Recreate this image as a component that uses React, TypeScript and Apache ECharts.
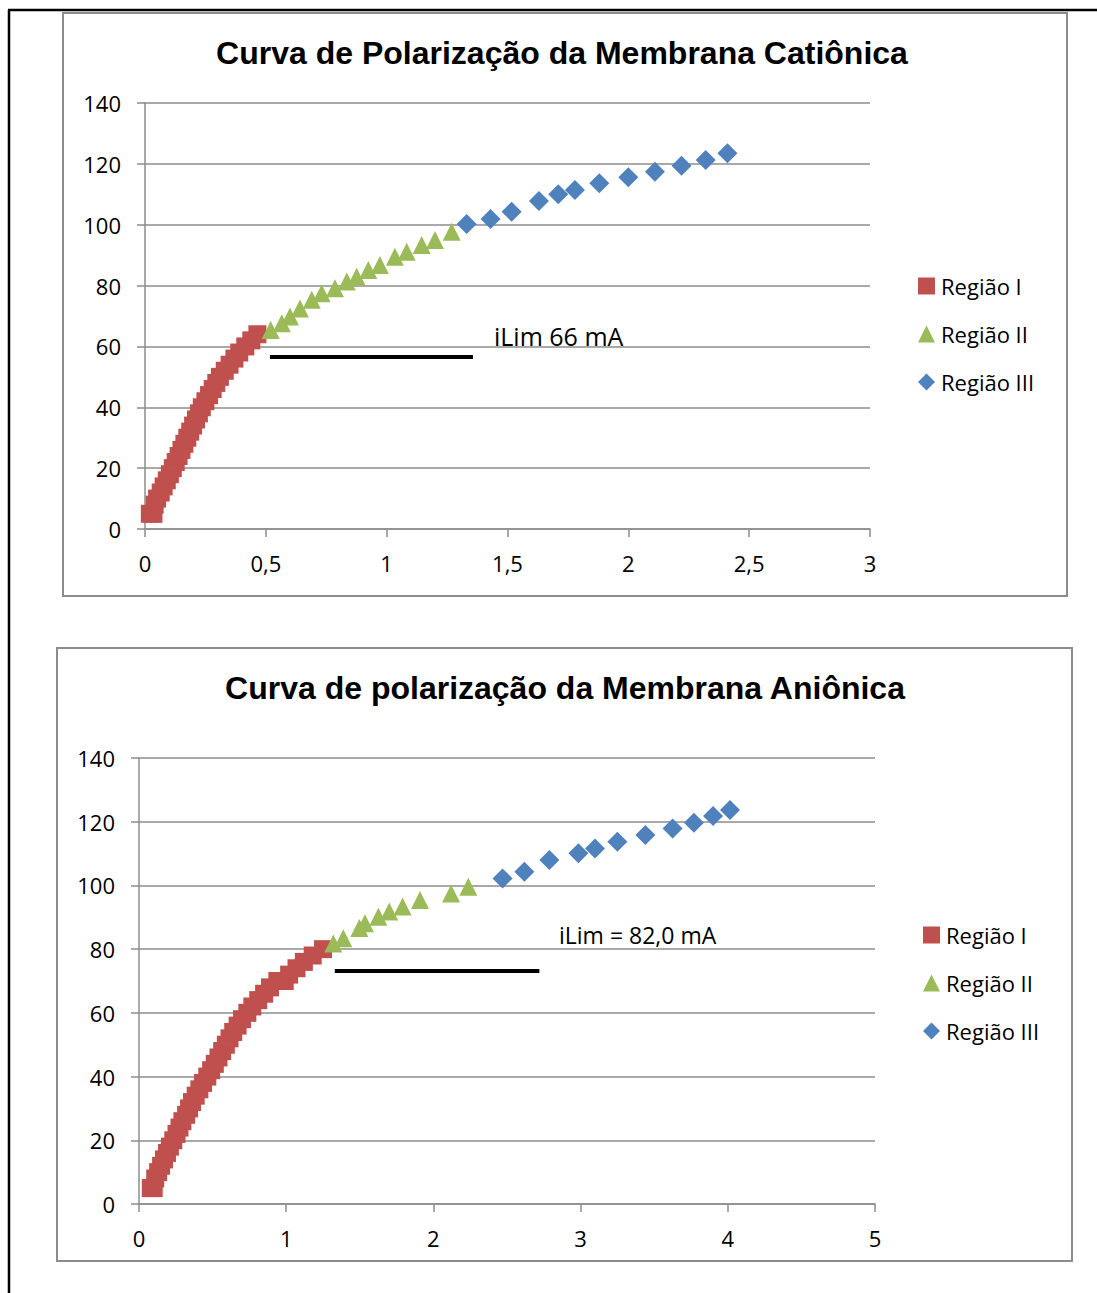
import React, { useEffect, useRef } from "react";
import * as echarts from "echarts";

// Curva catiônica: [corrente (A), potencial (mV)]
const catRegiaoI: [number, number][] = [
  [0.02, 5], [0.035, 5], [0.04, 8], [0.05, 10], [0.065, 12], [0.077, 14], [0.09, 16],
  [0.103, 18], [0.115, 20], [0.127, 22], [0.139, 24], [0.151, 26], [0.163, 28],
  [0.175, 30], [0.187, 32], [0.199, 34], [0.211, 36], [0.223, 38], [0.235, 40],
  [0.25, 42], [0.265, 44], [0.28, 46], [0.295, 48], [0.31, 50], [0.33, 52],
  [0.35, 54], [0.37, 56], [0.39, 58], [0.415, 60], [0.44, 62], [0.465, 64],
];
const catRegiaoII: [number, number][] = [
  [0.52, 65.4], [0.566, 67.6], [0.6, 69.8], [0.641, 72.5], [0.69, 75.3], [0.731, 77.5],
  [0.786, 79.1], [0.835, 81.3], [0.876, 82.9], [0.924, 85.1], [0.972, 86.8],
  [1.034, 89.5], [1.083, 91.1], [1.145, 93.3], [1.2, 95.0], [1.269, 97.7],
];
const catRegiaoIII: [number, number][] = [
  [1.331, 100.2], [1.43, 101.9], [1.517, 104.3], [1.63, 107.8], [1.71, 110],
  [1.779, 111.4], [1.88, 113.6], [2.0, 115.6], [2.11, 117.4], [2.22, 119.4],
  [2.32, 121.3], [2.41, 123.5],
];

// Curva aniônica
const aniRegiaoI: [number, number][] = [
  [0.08, 5], [0.1, 5], [0.11, 8], [0.13, 10], [0.15, 12], [0.17, 14], [0.19, 16],
  [0.21, 18], [0.233, 20], [0.255, 22], [0.275, 24], [0.295, 26], [0.32, 28],
  [0.34, 30], [0.36, 32], [0.385, 34], [0.41, 36], [0.435, 38], [0.464, 40],
  [0.49, 42], [0.515, 44], [0.54, 46], [0.565, 48], [0.59, 50], [0.615, 52],
  [0.64, 54], [0.67, 56], [0.7, 58], [0.736, 60], [0.77, 62], [0.81, 64],
  [0.85, 66], [0.89, 68], [0.94, 70], [0.99, 70], [1.02, 72], [1.07, 74],
  [1.12, 76], [1.18, 78], [1.25, 80],
];
const aniRegiaoII: [number, number][] = [
  [1.32, 81.8], [1.388, 83.4], [1.497, 86.6], [1.535, 88.1], [1.626, 90.2],
  [1.7, 91.8], [1.791, 93.4], [1.909, 95.4], [2.12, 97.5], [2.237, 99.6],
];
const aniRegiaoIII: [number, number][] = [
  [2.47, 102.2], [2.618, 104.3], [2.788, 108], [2.985, 110.1], [3.098, 111.6],
  [3.25, 113.7], [3.44, 115.8], [3.625, 117.9], [3.77, 119.7], [3.9, 121.8],
  [4.015, 123.7],
];

// Segmentos de corrente limite: [x inicial, x final, y]
const iLimCatSeg = [0.517, 1.357, 56.5];
const iLimAniSeg = [1.33, 2.72, 73.1];

const serieNomes = ["Região I", "Região II", "Região III"];
const cores = ["#C0504D", "#9BBB59", "#4F81BD"];
const simbolos = ["rect", "triangle", "diamond"];
const tamanhos = [18, 18, 20];

const FONT = "'Open Sans', sans-serif";
const GRID_GRAY = "#8c8c8c";
const TITLE_FONT = "bold 32px 'Liberation Sans', Arial, sans-serif";

function eixoX(gridIndex: number, max: number, interval: number) {
  return {
    type: "value",
    gridIndex,
    min: 0,
    max,
    interval,
    axisLine: { show: true, lineStyle: { color: GRID_GRAY, width: 1.5 } },
    axisTick: { show: true, length: 8, lineStyle: { color: GRID_GRAY, width: 1.5 } },
    splitLine: { show: false },
    axisLabel: {
      margin: 23,
      color: "#000",
      fontFamily: FONT,
      fontSize: 22,
      formatter: (v: number) => String(v).replace(".", ","),
    },
  };
}

function eixoY(gridIndex: number) {
  return {
    type: "value",
    gridIndex,
    min: 0,
    max: 140,
    interval: 20,
    axisLine: { show: true, lineStyle: { color: GRID_GRAY, width: 1.5 } },
    axisTick: { show: true, length: 8, lineStyle: { color: GRID_GRAY, width: 1.5 } },
    splitLine: { show: true, lineStyle: { color: GRID_GRAY, width: 1.5 } },
    axisLabel: { margin: 24, color: "#000", fontFamily: FONT, fontSize: 22 },
  };
}

function series(idx: number, dados: [number, number][][], seg: number[]) {
  return dados.map((d, i) => ({
    name: serieNomes[i],
    type: "scatter",
    xAxisIndex: idx,
    yAxisIndex: idx,
    data: d,
    symbol: simbolos[i],
    symbolSize: tamanhos[i],
    itemStyle: { color: cores[i], opacity: 1 },
    z: 3 + i,
    ...(i === 1
      ? {
          markLine: {
            silent: true,
            symbol: ["none", "none"],
            label: { show: false },
            lineStyle: { color: "#000", width: 4, type: "solid" },
            data: [[{ coord: [seg[0], seg[2]] }, { coord: [seg[1], seg[2]] }]],
          },
        }
      : {}),
  }));
}

function legenda(top: number, left: number) {
  return {
    orient: "vertical",
    left,
    top,
    itemWidth: 17,
    itemHeight: 17,
    itemGap: 26,
    data: serieNomes.map((n, i) => ({ name: n, icon: simbolos[i] })),
    textStyle: { fontFamily: FONT, fontSize: 22, color: "#000", padding: [0, 0, 0, 1] },
  };
}

export default function App() {
  const ref = useRef<HTMLDivElement>(null);
  useEffect(() => {
    if (!ref.current) return;
    const chart = echarts.init(ref.current, undefined, { renderer: "svg" });
    chart.setOption({
      animation: false,
      backgroundColor: "#fff",
      grid: [
        { left: 145, top: 103, width: 725, height: 426 },
        { left: 139, top: 758, width: 736, height: 446 },
      ],
      xAxis: [eixoX(0, 3, 0.5), eixoX(1, 5, 1)],
      yAxis: [eixoY(0), eixoY(1)],
      legend: [legenda(270, 913), legenda(919, 918)],
      series: [
        ...series(0, [catRegiaoI, catRegiaoII, catRegiaoIII], iLimCatSeg),
        ...series(1, [aniRegiaoI, aniRegiaoII, aniRegiaoIII], iLimAniSeg),
      ],
      graphic: [
        { type: "line", shape: { x1: 9, y1: 10, x2: 9, y2: 1293 }, style: { stroke: "#000", lineWidth: 2.5 } },
        { type: "line", shape: { x1: 8, y1: 10, x2: 1097, y2: 10 }, style: { stroke: "#000", lineWidth: 2.5 } },
        { type: "rect", shape: { x: 63, y: 13, width: 1004, height: 583 }, style: { fill: "none", stroke: GRID_GRAY, lineWidth: 2 } },
        { type: "rect", shape: { x: 57, y: 648, width: 1015, height: 613 }, style: { fill: "none", stroke: GRID_GRAY, lineWidth: 2 } },
        {
          type: "text", x: 562, y: 53,
          style: { text: "Curva de Polarização da Membrana Catiônica", font: TITLE_FONT, fill: "#000", textAlign: "center", textVerticalAlign: "middle" },
        },
        {
          type: "text", x: 565, y: 688,
          style: { text: "Curva de polarização da Membrana Aniônica", font: TITLE_FONT, fill: "#000", textAlign: "center", textVerticalAlign: "middle" },
        },
        {
          type: "text", x: 494, y: 336,
          style: { text: "iLim 66 mA", font: "25px 'Open Sans', sans-serif", fill: "#000", textAlign: "left", textVerticalAlign: "middle" },
        },
        {
          type: "text", x: 559, y: 935,
          style: { text: "iLim = 82,0 mA", font: "23px 'Open Sans', sans-serif", fill: "#000", textAlign: "left", textVerticalAlign: "middle" },
        },
      ],
    });
    return () => chart.dispose();
  }, []);
  return <div ref={ref} style={{ position: "absolute", left: 0, top: 0, width: 1097, height: 1293 }} />;
}
